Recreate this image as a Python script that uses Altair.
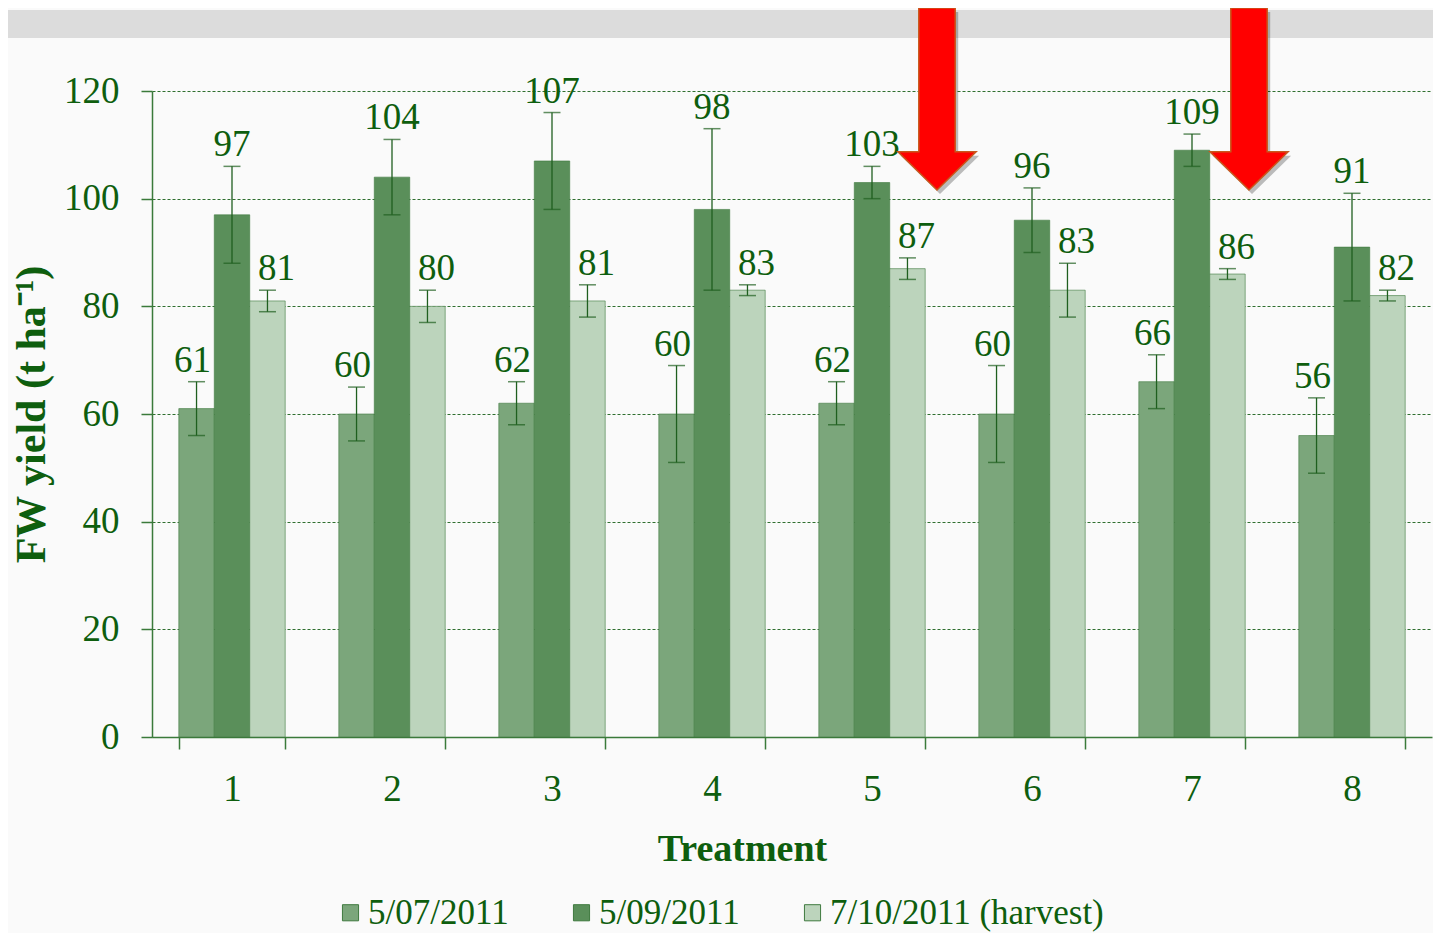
import altair as alt
import pandas as pd

treatments = ["1", "2", "3", "4", "5", "6", "7", "8"]
series = ["5/07/2011", "5/09/2011", "7/10/2011 (harvest)"]
jul = [61, 60, 62, 60, 62, 60, 66, 56]
sep = [97, 104, 107, 98, 103, 96, 109, 91]
harvest = [81, 80, 81, 83, 87, 83, 86, 82]
err_jul = [5, 5, 4, 9, 4, 9, 5, 7]
err_sep = [9, 7, 9, 15, 3, 6, 3, 10]
err_harvest = [2, 3, 3, 1, 2, 5, 1, 1]
colors = ["#7ba67b", "#5a8f5a", "#bcd4bc"]
y_ticks = [0, 20, 40, 60, 80, 100, 120]
arrow_treatments = ["5", "7"]
arrow_y = [118.5, 118.5]
arrow_dx = [65, 57]

rows = []
for s, vals, errs in zip(series, [jul, sep, harvest], [err_jul, err_sep, err_harvest]):
    for t, v, e in zip(treatments, vals, errs):
        rows.append({"Treatment": t, "Series": s, "value": v, "lo": v - e, "hi": v + e})
df = pd.DataFrame(rows)
arrows = pd.DataFrame({"Treatment": arrow_treatments, "y": arrow_y})

GREEN_TXT = "#0e5e0e"
GREEN_AX = "#3a7a3a"
FONT = "Liberation Serif, Times New Roman, serif"

x = alt.X("Treatment:N", sort=treatments,
          scale=alt.Scale(paddingInner=0.335, paddingOuter=0.1675),
          axis=alt.Axis(title="Treatment", labelAngle=0, tickBand="extent",
                        tickSize=12, labelPadding=22, titlePadding=23,
                        titleX=590, titleAlign="center",
                        labelFontSize=37, titleFontSize=38, titleFontWeight="bold",
                        labelFont=FONT, titleFont=FONT, labelColor=GREEN_TXT,
                        titleColor=GREEN_TXT, domainColor=GREEN_AX, tickColor=GREEN_AX,
                        domainWidth=1.5, tickWidth=1.5, grid=False))
xo = alt.XOffset("Series:N", sort=series, scale=alt.Scale(paddingInner=0, paddingOuter=0))
y_scale = alt.Scale(domain=[0, 120], nice=False, zero=True)
y = alt.Y("value:Q", scale=y_scale,
          axis=alt.Axis(title="FW yield (t ha⁻¹)", values=y_ticks, tickSize=11,
                        labelPadding=22, titlePadding=10, labelFontSize=37,
                        titleFontSize=42, titleFontWeight="bold", labelFont=FONT,
                        titleFont=FONT, labelColor=GREEN_TXT, titleColor=GREEN_TXT,
                        domainColor=GREEN_AX, tickColor=GREEN_AX, domainWidth=1.5,
                        tickWidth=1.5, gridColor="#2f6f2f", gridDash=[3, 2],
                        gridWidth=1))
color = alt.Color("Series:N", sort=series,
                  scale=alt.Scale(domain=series, range=colors),
                  legend=alt.Legend(title=None, orient="none", direction="horizontal",
                                    legendX=181, legendY=804, symbolType="square",
                                    symbolSize=260, symbolStrokeColor="#3f7a3f",
                                    symbolStrokeWidth=1, labelFont=FONT,
                                    labelFontSize=35, labelColor=GREEN_TXT,
                                    labelLimit=0, columnPadding=55, symbolOffset=0,
                                    labelOffset=0))

band = alt.Chart(df).mark_rect(color="#dcdcdc").encode(
    x=alt.value(-160), x2=alt.value(1300), y=alt.value(-81), y2=alt.value(-53))

bars = alt.Chart(df).mark_bar(stroke="#3f7a3f", strokeWidth=1, strokeOpacity=0.6).encode(
    x=x, xOffset=xo, y=y, color=color)

rules = alt.Chart(df).mark_rule(color="#1f5f1f", strokeWidth=1.3).encode(
    x=alt.X("Treatment:N", sort=treatments), xOffset=xo,
    y=alt.Y("lo:Q", scale=y_scale), y2="hi:Q")
cap_lo = alt.Chart(df).mark_tick(color="#1f5f1f", size=17, thickness=1.5).encode(
    x=alt.X("Treatment:N", sort=treatments), xOffset=xo, y=alt.Y("lo:Q", scale=y_scale))
cap_hi = alt.Chart(df).mark_tick(color="#1f5f1f", size=17, thickness=1.5).encode(
    x=alt.X("Treatment:N", sort=treatments), xOffset=xo, y=alt.Y("hi:Q", scale=y_scale))

label_dx = [-4, 0, 9]
labels = []
for s, dx in zip(series, label_dx):
    labels.append(
        alt.Chart(df).transform_filter(alt.datum.Series == s).mark_text(
            font=FONT, fontSize=37, color=GREEN_TXT, baseline="alphabetic",
            dy=-10, dx=dx).encode(
            x=alt.X("Treatment:N", sort=treatments), xOffset=xo,
            y=alt.Y("hi:Q", scale=y_scale), text="value:Q"))

arrow_path = "M-0.2,-1 L0.2,-1 L0.2,0.58 L0.43,0.58 L0,1 L-0.43,0.58 L-0.2,0.58 Z"
arrow_layers = []
for t, dx in zip(arrow_treatments, arrow_dx):
    base = alt.Chart(arrows).transform_filter(alt.datum.Treatment == t)
    arrow_layers.append(base.mark_point(
        shape=arrow_path, size=33124, filled=True, fill="#000000", opacity=0.25,
        xOffset=dx + 3, yOffset=4).encode(
        x=alt.X("Treatment:N", sort=treatments), y=alt.Y("y:Q", scale=y_scale)))
    arrow_layers.append(base.mark_point(
        shape=arrow_path, size=33124, filled=True, fill="#ff0000", stroke="#c8581c",
        strokeWidth=1.5, opacity=1, xOffset=dx).encode(
        x=alt.X("Treatment:N", sort=treatments), y=alt.Y("y:Q", scale=y_scale)))

chart = alt.layer(band, bars, rules, cap_lo, cap_hi, *labels, *arrow_layers).properties(
    width=1280, height=646, background="#fafafa",
    autosize=alt.AutoSizeParams(type="none"),
    padding={"left": 144, "top": 83, "right": 1, "bottom": 196},
).configure_view(stroke=None)

chart.save("out.html", embed_options={"renderer": "svg", "actions": False})
